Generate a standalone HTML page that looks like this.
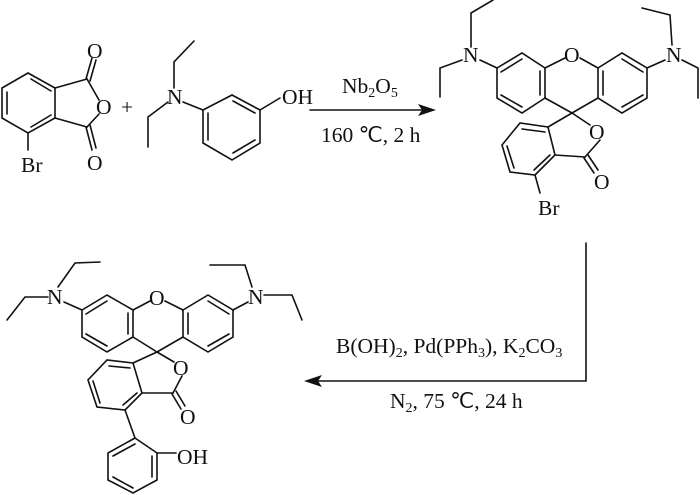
<!DOCTYPE html>
<html><head><meta charset="utf-8"><style>
html,body{margin:0;padding:0;background:#fff;}
svg{display:block;}
text{font-family:"Liberation Serif",serif;font-size:21.5px;fill:#111;}
</style></head><body>
<svg width="700" height="495" viewBox="0 0 700 495" xmlns="http://www.w3.org/2000/svg">
<g stroke="#111" stroke-width="1.6" fill="none" stroke-linecap="round">
<polyline points="28,73 55,88 55,118 28,133 2,118 2,88 28,73"/>
<line x1="7" y1="92" x2="7" y2="114"/>
<line x1="31" y1="79" x2="51" y2="91"/>
<line x1="51" y1="115" x2="31" y2="127"/>
<line x1="55" y1="88" x2="87" y2="79"/>
<line x1="55" y1="118" x2="87" y2="127"/>
<line x1="87" y1="79" x2="99" y2="100"/>
<line x1="87" y1="127" x2="99" y2="114"/>
<line x1="86" y1="79" x2="92" y2="58"/><line x1="90" y1="81" x2="96" y2="60"/>
<line x1="86" y1="127" x2="92" y2="150"/><line x1="90" y1="125" x2="96" y2="148"/>
<line x1="28" y1="133" x2="28" y2="150"/>
<polyline points="194,41 174,62 174,88"/>
<polyline points="168,102 148,117 148,147"/>
<line x1="183" y1="102" x2="203" y2="110"/>
<polyline points="232,95 260,110 260,143 232,160 203,143 203,110 232,95"/>
<line x1="233" y1="101" x2="255" y2="113"/>
<line x1="208" y1="113" x2="208" y2="140"/>
<line x1="255" y1="140" x2="233" y2="153"/>
<line x1="260" y1="110" x2="280" y2="98"/>
<line x1="310" y1="110" x2="424" y2="110"/>
<polyline points="493,0 471,13 471,47"/>
<polyline points="462,60 440,68 440,97"/>
<line x1="480" y1="60" x2="497" y2="68"/>
<polyline points="497,68 522,53 545,68 545,98 522,113 497,98 497,68"/>
<line x1="501" y1="72" x2="522" y2="59"/>
<line x1="540" y1="71" x2="540" y2="95"/>
<line x1="501" y1="95" x2="522" y2="107"/>
<line x1="545" y1="68" x2="565" y2="58"/>
<line x1="580" y1="58" x2="598" y2="68"/>
<polyline points="598,68 622,53 647,68 647,98 622,113 598,98 598,68"/>
<line x1="622" y1="59" x2="643" y2="72"/>
<line x1="603" y1="71" x2="603" y2="95"/>
<line x1="643" y1="95" x2="622" y2="107"/>
<line x1="545" y1="98" x2="572" y2="113"/><line x1="598" y1="98" x2="572" y2="113"/>
<line x1="647" y1="68" x2="665" y2="60"/>
<polyline points="642,8 670,15 672,45"/>
<polyline points="682,60 698,68 698,98"/>
<line x1="572" y1="113" x2="548" y2="127"/>
<line x1="572" y1="113" x2="590" y2="125"/>
<line x1="600" y1="140" x2="585" y2="157"/>
<polyline points="548,127 555,155 535,175 510,172 502,145 520,123 548,127"/>
<line x1="550" y1="155" x2="534" y2="170"/>
<line x1="507" y1="146" x2="514" y2="168"/>
<line x1="522" y1="129" x2="545" y2="132"/>
<line x1="555" y1="155" x2="585" y2="157"/>
<line x1="584" y1="158" x2="594" y2="173"/><line x1="588" y1="155" x2="598" y2="170"/>
<line x1="535" y1="175" x2="540" y2="193"/>
<polyline points="586,243 586,381 316,381"/>
<polyline points="100,262 75,263 58,287"/>
<polyline points="48,297 25,297 7,320"/>
<line x1="64" y1="302" x2="82" y2="310"/>
<polyline points="82,310 107,295 133,310 133,337 107,352 82,337 82,310"/>
<line x1="86" y1="314" x2="107" y2="301"/>
<line x1="128" y1="313" x2="128" y2="334"/>
<line x1="86" y1="334" x2="107" y2="346"/>
<line x1="133" y1="310" x2="150" y2="301"/>
<line x1="165" y1="301" x2="183" y2="310"/>
<polyline points="183,310 208,295 233,310 233,337 208,352 183,337 183,310"/>
<line x1="208" y1="301" x2="229" y2="314"/>
<line x1="188" y1="313" x2="188" y2="334"/>
<line x1="229" y1="334" x2="208" y2="346"/>
<line x1="133" y1="337" x2="157" y2="352"/><line x1="183" y1="337" x2="157" y2="352"/>
<line x1="233" y1="310" x2="248" y2="302"/>
<polyline points="210,265 245,265 252,287"/>
<polyline points="264,295 292,295 302,320"/>
<line x1="157" y1="352" x2="133" y2="363"/>
<line x1="157" y1="352" x2="174" y2="362"/>
<line x1="182" y1="376" x2="173" y2="393"/>
<polyline points="133,363 142,393 125,410 97,407 88,380 107,360 133,363"/>
<line x1="137" y1="393" x2="123" y2="405"/>
<line x1="93" y1="381" x2="100" y2="403"/>
<line x1="109" y1="366" x2="130" y2="368"/>
<line x1="142" y1="393" x2="173" y2="393"/>
<line x1="172" y1="394" x2="181" y2="409"/><line x1="176" y1="391" x2="185" y2="406"/>
<line x1="125" y1="410" x2="135" y2="438"/>
<polyline points="135,438 157,453 157,480 133,493 108,480 108,453 135,438"/>
<line x1="152" y1="456" x2="152" y2="477"/>
<line x1="113" y1="477" x2="133" y2="488"/>
<line x1="113" y1="456" x2="135" y2="444"/>
<line x1="157" y1="453" x2="176" y2="453"/>
</g>
<polygon points="436,110 418,104 422,110 418,116" fill="#111"/>
<polygon points="304,381 322,375 318,381 322,387" fill="#111"/>
<g>
<text x="87" y="58">O</text>
<text x="96" y="114">O</text>
<text x="87" y="170">O</text>
<text x="21" y="172">Br</text>
<text x="121" y="114" font-size="20">+</text>
<text x="167" y="104">N</text>
<text x="282" y="104">OH</text>
<text x="342" y="93">Nb<tspan font-size="14" dy="4">2</tspan><tspan dy="-4">O</tspan><tspan font-size="14" dy="4">5</tspan></text>
<text x="321" y="142">160 ℃, 2 h</text>
<text x="463" y="62">N</text>
<text x="564" y="62">O</text>
<text x="666" y="62">N</text>
<text x="589" y="139">O</text>
<text x="594" y="189">O</text>
<text x="538" y="215">Br</text>
<text x="336" y="353">B(OH)<tspan font-size="14" dy="4">2</tspan><tspan dy="-4">, Pd(PPh</tspan><tspan font-size="14" dy="4">3</tspan><tspan dy="-4">), K</tspan><tspan font-size="14" dy="4">2</tspan><tspan dy="-4">CO</tspan><tspan font-size="14" dy="4">3</tspan></text>
<text x="390" y="408">N<tspan font-size="14" dy="4">2</tspan><tspan dy="-4">, 75 ℃, 24 h</tspan></text>
<text x="47" y="304">N</text>
<text x="149" y="305">O</text>
<text x="248" y="304">N</text>
<text x="173" y="375">O</text>
<text x="180" y="424">O</text>
<text x="177" y="464">OH</text>
</g>
</svg>
</body></html>
